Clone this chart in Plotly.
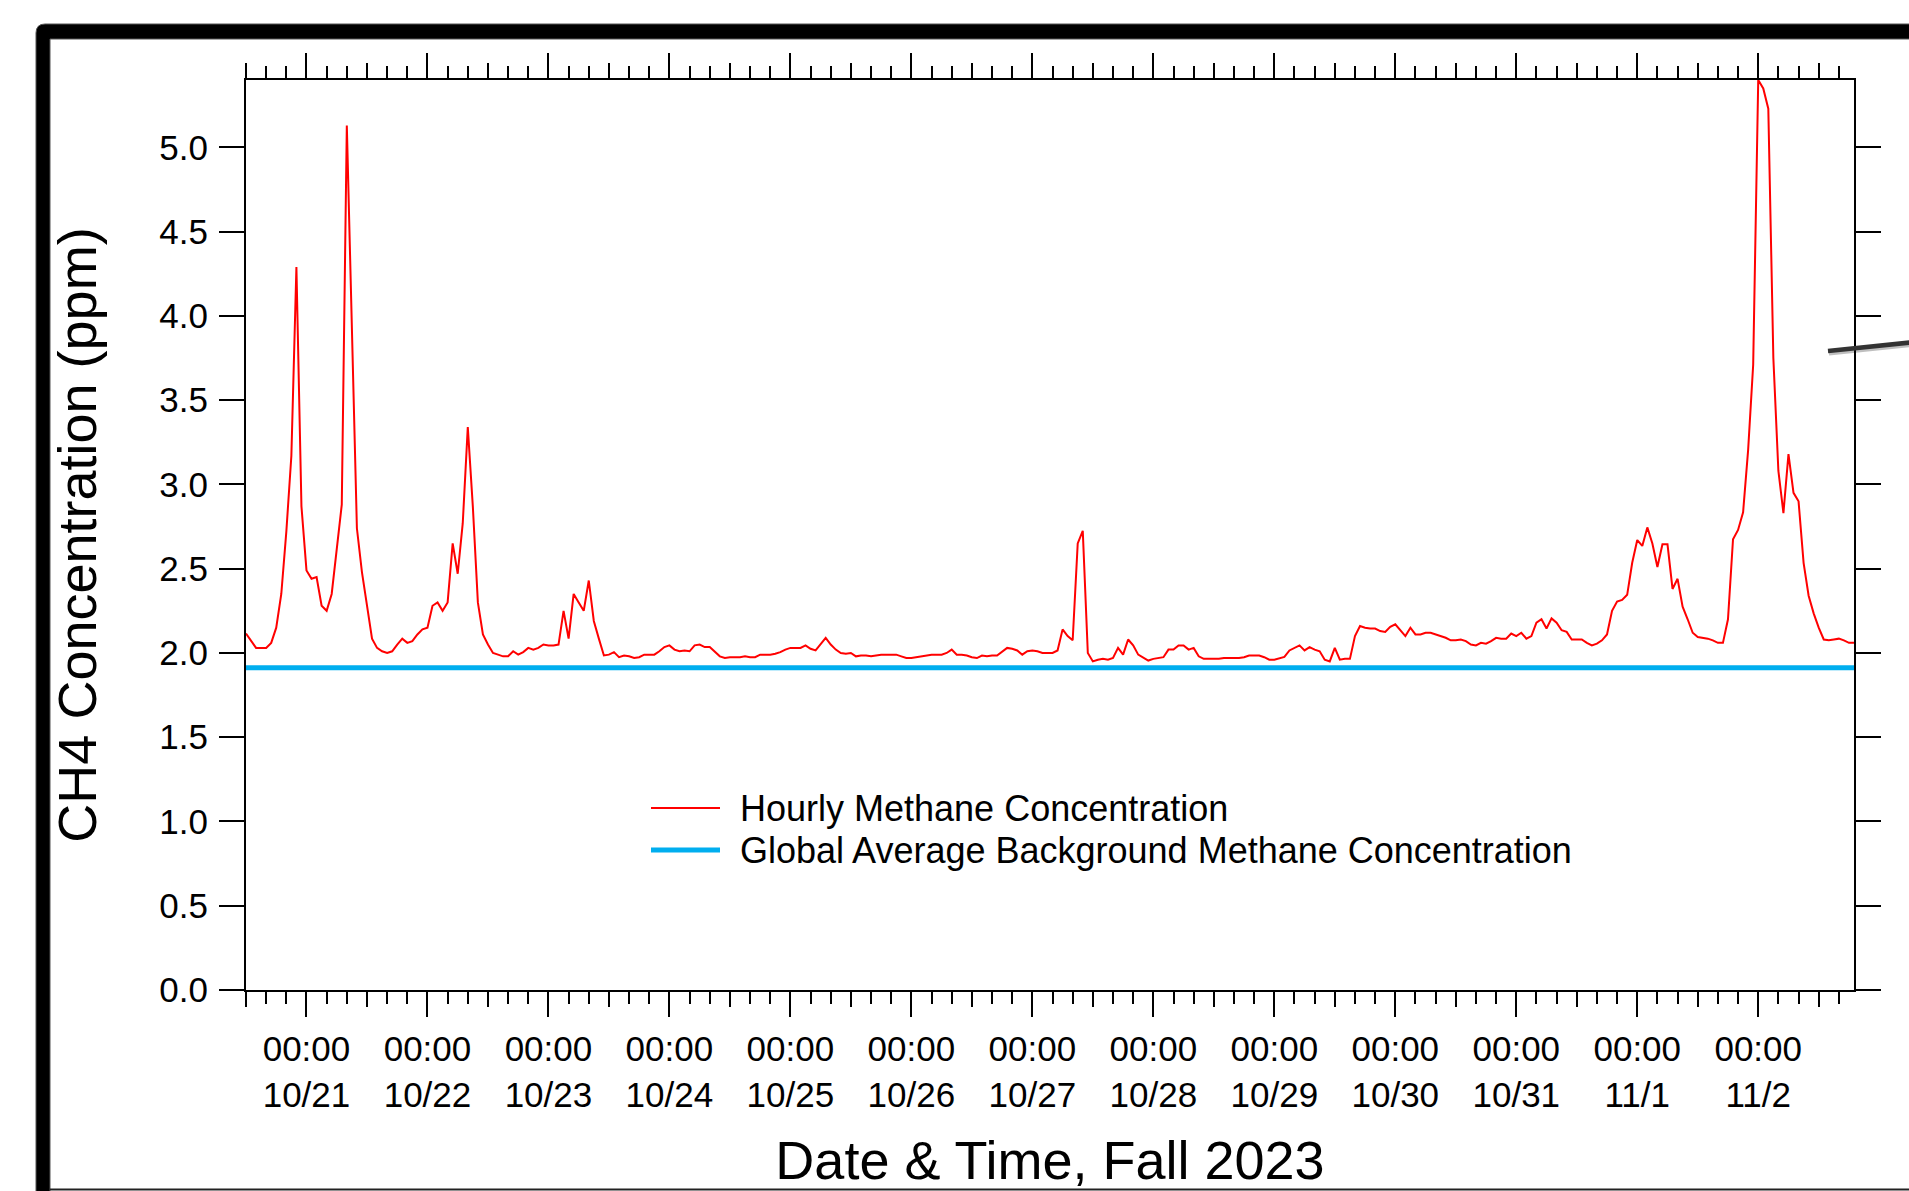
import pandas as pd
import plotly.graph_objects as go

# ---------------- data ----------------
start_time = "2023-10-20 12:00"
ch4_ppm = [
    2.115, 2.07, 2.03, 2.03, 2.03, 2.06, 2.15, 2.35, 2.72, 3.17,
    4.29, 2.87, 2.49, 2.44, 2.45, 2.28, 2.25, 2.35, 2.62, 2.88,
    5.13, 3.93, 2.74, 2.48, 2.28, 2.085, 2.03, 2.01, 2.00, 2.01,
    2.05, 2.085, 2.06, 2.07, 2.11, 2.14, 2.15, 2.28, 2.30, 2.25,
    2.30, 2.65, 2.47, 2.77, 3.34, 2.87, 2.30, 2.11, 2.05, 2.00,
    1.99, 1.98, 1.98, 2.01, 1.99, 2.005, 2.03, 2.02, 2.03, 2.05,
    2.045, 2.045, 2.05, 2.25, 2.085, 2.35, 2.30, 2.25, 2.43, 2.19,
    2.085, 1.985, 1.99, 2.005, 1.975, 1.985, 1.98, 1.97, 1.975, 1.99,
    1.99, 1.99, 2.01, 2.035, 2.045, 2.02, 2.01, 2.015, 2.01, 2.045,
    2.05, 2.035, 2.035, 2.005, 1.98, 1.97, 1.975, 1.975, 1.975, 1.98,
    1.975, 1.975, 1.99, 1.99, 1.99, 1.995, 2.005, 2.02, 2.03, 2.03,
    2.03, 2.045, 2.025, 2.015, 2.05, 2.09, 2.05, 2.02, 2.0, 1.995,
    2.0, 1.98, 1.985, 1.985, 1.98, 1.985, 1.99, 1.99, 1.99, 1.99,
    1.98, 1.97, 1.97, 1.975, 1.98, 1.985, 1.99, 1.99, 1.99, 2.0,
    2.02, 1.99, 1.99, 1.985, 1.975, 1.97, 1.985, 1.98, 1.985, 1.985,
    2.005, 2.03, 2.025, 2.015, 1.99, 2.01, 2.015, 2.01, 2.0, 2.0,
    2.0, 2.015, 2.14, 2.10, 2.075, 2.65, 2.725, 2.0, 1.95, 1.96,
    1.965, 1.96, 1.97, 2.03, 1.99, 2.08, 2.045, 1.99, 1.97, 1.955,
    1.965, 1.97, 1.975, 2.02, 2.02, 2.045, 2.045, 2.02, 2.03, 1.98,
    1.965, 1.965, 1.965, 1.965, 1.97, 1.97, 1.97, 1.97, 1.975, 1.985,
    1.985, 1.985, 1.975, 1.96, 1.96, 1.97, 1.977, 2.015, 2.03, 2.045,
    2.015, 2.035, 2.02, 2.01, 1.96, 1.95, 2.03, 1.96, 1.965, 1.965,
    2.10, 2.16, 2.15, 2.145, 2.145, 2.13, 2.125, 2.155, 2.17, 2.135,
    2.10, 2.15, 2.11, 2.11, 2.12, 2.12, 2.11, 2.10, 2.09, 2.075,
    2.075, 2.08, 2.07, 2.05, 2.045, 2.06, 2.055, 2.07, 2.09, 2.085,
    2.085, 2.115, 2.10, 2.12, 2.085, 2.10, 2.18, 2.20, 2.145, 2.205,
    2.18, 2.135, 2.125, 2.08, 2.08, 2.08, 2.06, 2.045, 2.055, 2.075,
    2.11, 2.25, 2.305, 2.315, 2.345, 2.535, 2.67, 2.635, 2.745, 2.65,
    2.51, 2.645, 2.645, 2.38, 2.44, 2.275, 2.20, 2.12, 2.095, 2.09,
    2.085, 2.075, 2.06, 2.06, 2.20, 2.675, 2.73, 2.835, 3.205, 3.71,
    5.40, 5.35, 5.23, 3.75, 3.08, 2.83, 3.18, 2.95, 2.90, 2.535,
    2.34, 2.235, 2.15, 2.08, 2.075, 2.08, 2.085, 2.075, 2.06, 2.06,
]
background_ppm = 1.912
times = pd.date_range(start_time, periods=len(ch4_ppm), freq="h")
bg_x = [times[0], times[-1]]
bg_y = [background_ppm, background_ppm]

day_ticks = pd.date_range("2023-10-21 00:00", "2023-11-02 00:00", freq="D")
day_labels = ["00:00<br>%d/%d" % (d.month, d.day) for d in day_ticks]
noon_ticks = pd.date_range("2023-10-20 12:00", "2023-11-02 12:00", freq="D")

series_names = ["Hourly Methane Concentration",
                "Global Average Background Methane Concentration"]
RED = "#FF0000"
BLUE = "#00AEEF"
FONT = "Liberation Sans, Arial, sans-serif"

# ---------------- geometry helpers (pixel -> paper) ----------------
W, H = 1909, 1191
ML, MR, MT, MB = 246, 55, 80, 201
PW, PH = W - ML - MR, H - MT - MB


def px(x):
    return (x - ML) / PW


def py(y):
    return (H - MB - y) / PH


fig = go.Figure()
fig.add_trace(go.Scatter(x=times, y=ch4_ppm, mode="lines", name=series_names[0],
                         line=dict(color=RED, width=2), showlegend=False))
fig.add_trace(go.Scatter(x=bg_x, y=bg_y, mode="lines", name=series_names[1],
                         line=dict(color=BLUE, width=5), showlegend=False,
                         xaxis="x2"))

xrange = [times[0], times[-1]]
common_tick = dict(ticks="outside", tickwidth=2, tickcolor="black")

fig.update_layout(
    width=W, height=H,
    margin=dict(l=ML, r=MR, t=MT, b=MB, pad=0),
    paper_bgcolor="white", plot_bgcolor="white",
    font=dict(family=FONT, color="black", size=35),
    showlegend=False,
    xaxis=dict(
        type="date", range=xrange, showgrid=False, zeroline=False,
        showline=True, linewidth=2, linecolor="black", mirror="ticks",
        tickmode="array", tickvals=day_ticks, ticktext=day_labels,
        ticklen=25, **common_tick,
        tickfont=dict(size=35, family=FONT),
        ticklabelstandoff=2,
        minor=dict(dtick=4 * 3600 * 1000, tick0="2023-10-20 00:00",
                   ticklen=12, tickwidth=2, tickcolor="black",
                   ticks="outside", showgrid=False),
        title=dict(text="Date & Time, Fall 2023",
                   font=dict(size=54, family=FONT), standoff=29),
    ),
    xaxis2=dict(
        type="date", range=xrange, overlaying="x", anchor="y", side="bottom",
        showgrid=False, zeroline=False, showline=False, mirror="ticks",
        tickmode="array", tickvals=noon_ticks, showticklabels=False,
        ticklen=16, **common_tick,
    ),
    yaxis=dict(
        range=[0, 5.4], dtick=0.5, tick0=0, tickformat=".1f",
        showgrid=False, zeroline=False,
        showline=True, linewidth=2, linecolor="black", mirror="ticks",
        ticklen=25, **common_tick,
        tickfont=dict(size=35, family=FONT),
        ticklabelstandoff=4,
        title=dict(text="CH4 Concentration (ppm)",
                   font=dict(size=54, family=FONT), standoff=45),
    ),
)

# ---------------- manual legend ----------------
leg_x0, leg_x1, leg_tx = 651, 720, 737.5
leg_rows = [(808, RED, 2), (850, BLUE, 5)]
for (yy, col, lw), name in zip(leg_rows, series_names):
    fig.add_shape(type="line", xref="paper", yref="paper",
                  x0=px(leg_x0), x1=px(leg_x1), y0=py(yy), y1=py(yy),
                  line=dict(color=col, width=lw))
    fig.add_annotation(xref="paper", yref="paper", x=px(leg_tx), y=py(yy),
                       xanchor="left", yanchor="middle", showarrow=False,
                       text=name, font=dict(size=36, family=FONT, color="black"))

# ---------------- surrounding frame & pointer line ----------------
r = 9
frame_path = (
    f"M {px(36)},{py(1200)} L {px(36)},{py(24 + r)} "
    f"Q {px(36)},{py(24)} {px(36 + r)},{py(24)} "
    f"L {px(1915)},{py(24)} L {px(1915)},{py(39)} "
    f"L {px(50)},{py(39)} L {px(50)},{py(1200)} Z"
)
fig.add_shape(type="path", xref="paper", yref="paper", path=frame_path,
              fillcolor="black", line=dict(color="#555555", width=1), layer="above")
fig.add_shape(type="line", xref="paper", yref="paper",
              x0=px(50), x1=px(1915), y0=py(1189.5), y1=py(1189.5),
              line=dict(color="#222222", width=2), layer="above")
# pointer line (shadow + line)
fig.add_shape(type="line", xref="paper", yref="paper",
              x0=px(1829), x1=px(1915), y0=py(353.5), y1=py(344.5),
              line=dict(color="rgba(0,0,0,0.25)", width=4), layer="above")
fig.add_shape(type="line", xref="paper", yref="paper",
              x0=px(1828), x1=px(1915), y0=py(351), y1=py(342),
              line=dict(color="#333333", width=4.5), layer="above")

fig.write_html("out.html", config={"displayModeBar": False},
               post_script="document.body.style.margin='0';")
